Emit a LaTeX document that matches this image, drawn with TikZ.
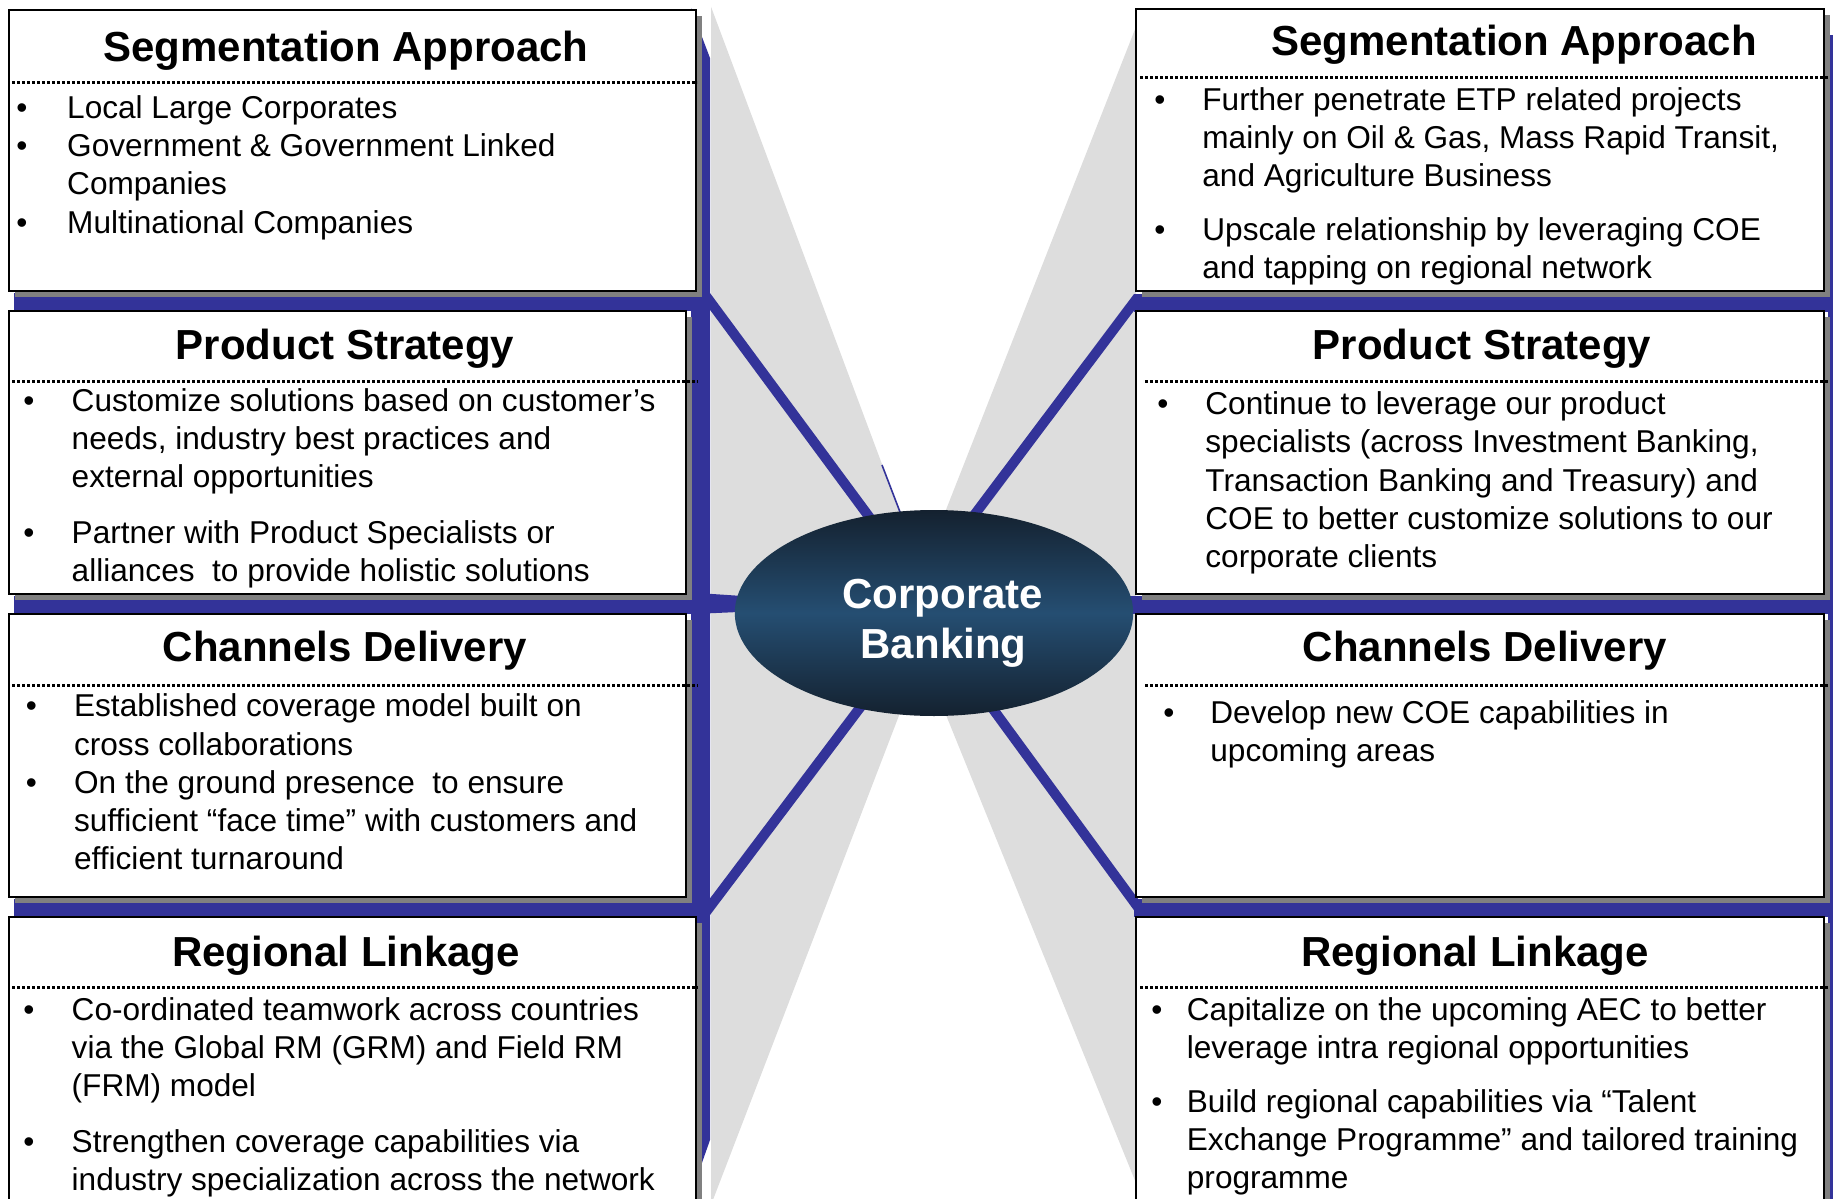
\documentclass[tikz,border=0pt]{standalone}
\usepackage{fontspec}
\setmainfont{Liberation Sans}
\usetikzlibrary{shapes.geometric,fit,shadows}
\definecolor{barblue}{HTML}{333399}
\definecolor{wedgegray}{HTML}{DDDDDD}
\definecolor{shadowgray}{HTML}{808080}
\definecolor{elldark}{HTML}{14212F}
\definecolor{ellmid}{HTML}{254E72}
\newcommand\cbitem[5]{%
  \node[bullettext] (#1b) at (#2,#4) {•};
  \foreach \lineText [count=\k from 0] in {#5} {
    \node[bodytext] (#1l\k) at (#3, #4+38.3*\k) {\lineText};
  }
}
\begin{document}
\begin{tikzpicture}[x=0.5pt, y=-0.5pt,
  boxshape/.style={draw=black, line width=1pt, fill=white, inner sep=0pt,
    drop shadow={shadow xshift=3pt, shadow yshift=-3pt, fill=shadowgray, opacity=1}},
  barshape/.style={fill=barblue, draw=none},
  diagline/.style={draw=barblue, line width=5pt},
  wedgeshape/.style={fill=wedgegray, draw=none},
  dotline/.style={draw=black, line width=1.5pt, dash pattern=on 1.4pt off 1.1pt},
  titletext/.style={font=\fontsize{21}{25}\selectfont\bfseries, inner sep=0pt, anchor=base},
  bodytext/.style={font=\fontsize{15.8}{19}\selectfont, inner sep=0pt, anchor=base west},
  bullettext/.style={font=\fontsize{15.8}{19}\selectfont, inner sep=0pt, anchor=base},
  centertext/.style={font=\fontsize{21}{25}\selectfont\bfseries, text=white, inner sep=0pt, anchor=base},
]
\useasboundingbox (0,0) rectangle (1833,1199);
\clip (0,0) rectangle (1833,1199);

% grey wedges
\fill[wedgeshape] (711,6.7) -- (938,614) -- (711,1205) -- cycle;
\fill[wedgeshape] (1136,26.7) -- (905,614) -- (1136,1183) -- cycle;
\draw[barblue, line width=0.8pt] (882,465) -- (900,512);

% blue frame bars
\fill[barshape] (691,8) -- (710,58) -- (710,1140) -- (691,1194) -- cycle;
\fill[barshape] (14,293) rectangle (710,311);
\fill[barshape] (14,596) rectangle (710,614);
\fill[barshape] (14,899) rectangle (710,917);
\fill[barshape] (705,593.5) -- (750,596.5) -- (750,611.5) -- (705,613.5) -- cycle;
\fill[barshape] (1134,294) rectangle (1845,312);
\fill[barshape] (1120,596) rectangle (1845,614);
\fill[barshape] (1134,899) rectangle (1845,917);
\fill[barshape] (1828,35) rectangle (1845,1199);

% diagonal connectors
\coordinate (jTL) at (706,296);
\coordinate (eTL) at (870,518);
\coordinate (jTR) at (1138,297);
\coordinate (eTR) at (972,518);
\coordinate (jBL) at (706,912);
\coordinate (eBL) at (862,705);
\coordinate (jBR) at (1140,910);
\coordinate (eBR) at (990,705);
\draw[diagline] (jTL) -- (eTL);
\draw[diagline] (jTR) -- (eTR);
\draw[diagline] (jBL) -- (eBL);
\draw[diagline] (jBR) -- (eBR);

% boxes
\node[boxshape, fit={(8.5,9.5) (696,290.5)}] (L1) {};
\node[boxshape, fit={(8.5,310.5) (686,593.5)}] (L2) {};
\node[boxshape, fit={(8.5,613.5) (686,896.5)}] (L3) {};
\node[boxshape, fit={(8.5,916.5) (696,1215)}] (L4) {};
\node[boxshape, fit={(1136,9) (1824,290.5)}] (R1) {};
\node[boxshape, fit={(1136,311) (1824,593.5)}] (R2) {};
\node[boxshape, fit={(1136,613.5) (1824,896.5)}] (R3) {};
\node[boxshape, fit={(1136,916.5) (1824,1215)}] (R4) {};

% dotted separators
\draw[dotline] (12,82) -- (697,82);
\draw[dotline] (12,381) -- (698,381);
\draw[dotline] (12,685) -- (698,685);
\draw[dotline] (12,987.5) -- (698,987.5);
\draw[dotline] (1140,77) -- (1828,77);
\draw[dotline] (1145,381) -- (1828,381);
\draw[dotline] (1145,685) -- (1828,685);
\draw[dotline] (1140,987.5) -- (1828,987.5);

% titles
\node[titletext] (L1t) at (346,61.5) {Segmentation Approach};
\node[titletext] (L2t) at (345,359.5) {Product Strategy};
\node[titletext] (L3t) at (345,661.7) {Channels Delivery};
\node[titletext] (L4t) at (346,966) {Regional Linkage};
\node[titletext] (R1t) at (1514,55) {Segmentation Approach};
\node[titletext] (R2t) at (1482,359.5) {Product Strategy};
\node[titletext] (R3t) at (1485,661.7) {Channels Delivery};
\node[titletext] (R4t) at (1475,966) {Regional Linkage};

% left texts
\cbitem{L1a}{22}{66.8}{118.3}{Local Large Corporates}
\cbitem{L1b}{22}{66.8}{156.6}{{Government \& Government Linked}, Companies}
\cbitem{L1c}{22}{66.8}{233.2}{Multinational Companies}
\cbitem{L2a}{29}{71.3}{411}{{Customize solutions based on customer’s}, {needs, industry best practices and}, external opportunities}
\cbitem{L2b}{29}{71.3}{543}{Partner with Product Specialists or, {alliances\ \ to provide holistic solutions}}
\cbitem{L3a}{31.5}{73.7}{716.7}{Established coverage model built on, cross collaborations}
\cbitem{L3b}{31.5}{73.7}{793.3}{{On the ground presence\ \ to ensure}, {sufficient “face time” with customers and}, efficient turnaround}
\cbitem{L4a}{29}{71.3}{1020}{Co-ordinated teamwork across countries, {via the Global RM (GRM) and Field RM}, (FRM) model}
\cbitem{L4b}{29}{71.3}{1152}{Strengthen coverage capabilities via, industry specialization across the network}

% right texts
\cbitem{R1a}{1160}{1202}{110}{Further penetrate ETP related projects, {mainly on Oil \& Gas, Mass Rapid Transit,}, and Agriculture Business}
\cbitem{R1b}{1160}{1202}{240}{Upscale relationship by leveraging COE, and tapping on regional network}
\cbitem{R2a}{1163}{1205}{414.5}{Continue to leverage our product, {specialists (across Investment Banking,}, {Transaction Banking and Treasury) and}, COE to better customize solutions to our, corporate clients}
\cbitem{R3a}{1169}{1210}{723}{Develop new COE capabilities in, upcoming areas}
\cbitem{R4a}{1157}{1186.5}{1020}{Capitalize on the upcoming AEC to better, leverage intra regional opportunities}
\cbitem{R4b}{1157}{1186.5}{1112}{Build regional capabilities via “Talent, Exchange Programme” and tailored training, programme}

% centre ellipse
\node[ellipse, minimum width=199.2pt, minimum height=103pt, inner sep=0pt,
  top color=elldark, bottom color=elldark, middle color=ellmid] (cb) at (934,613) {};
\node[centertext] (cb1) at (943,608.3) {Corporate};
\node[centertext] (cb2) at (943.5,658.3) {Banking};
\end{tikzpicture}
\end{document}
